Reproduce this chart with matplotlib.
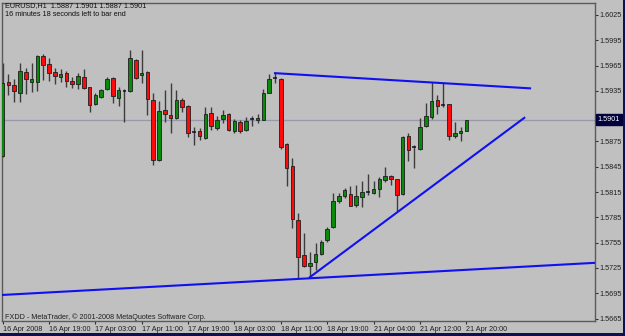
import matplotlib
matplotlib.use("Agg")
import matplotlib.pyplot as plt
import matplotlib.transforms as mtransforms
from matplotlib.patches import Rectangle

# ---------------- data (EURUSD H1) ----------------
opens = [1.5858, 1.5946, 1.5942, 1.5933, 1.5957, 1.5946, 1.5946, 1.5976, 1.5967, 1.5957,
         1.5951, 1.5956, 1.5947, 1.5943, 1.5951, 1.5939, 1.5919, 1.5928, 1.5937, 1.5950,
         1.5927, 1.5935, 1.5935, 1.5972, 1.5954, 1.5957, 1.5924, 1.5853, 1.5912, 1.5906,
         1.5903, 1.5924, 1.5917, 1.5886, 1.5887, 1.5879, 1.5909, 1.5891, 1.5902, 1.5908,
         1.5887, 1.5898, 1.5889, 1.5902, 1.5900, 1.5901, 1.5933, 1.5950, 1.5949, 1.5872,
         1.5846, 1.5782, 1.5740, 1.5727, 1.5732, 1.5742, 1.5758, 1.5773, 1.5804, 1.5810,
         1.5813, 1.5800, 1.5809, 1.5815, 1.5814, 1.5819, 1.5829, 1.5834, 1.5830, 1.5813,
         1.5881, 1.5868, 1.5866, 1.5893, 1.5904, 1.5924, 1.5918, 1.5919, 1.5882, 1.5885,
         1.5887]
highs = [1.5968, 1.5955, 1.5949, 1.5968, 1.5962, 1.5968, 1.5978, 1.5979, 1.5974, 1.5962,
         1.5961, 1.5958, 1.5952, 1.5956, 1.5961, 1.5940, 1.5932, 1.5937, 1.5951, 1.5951,
         1.5939, 1.5937, 1.5983, 1.5973, 1.5983, 1.5958, 1.5932, 1.5923, 1.5936, 1.5944,
         1.5936, 1.5927, 1.5918, 1.5892, 1.5891, 1.5916, 1.5916, 1.5905, 1.5912, 1.5909,
         1.5902, 1.5901, 1.5904, 1.5905, 1.5908, 1.5937, 1.5955, 1.5956, 1.5950, 1.5873,
         1.5855, 1.5790, 1.5766, 1.5744, 1.5755, 1.5758, 1.5774, 1.5814, 1.5814, 1.5820,
         1.5822, 1.5823, 1.5828, 1.5836, 1.5828, 1.5833, 1.5845, 1.5835, 1.5831, 1.5881,
         1.5885, 1.5871, 1.5903, 1.5921, 1.5946, 1.5930, 1.5944, 1.5920, 1.5898, 1.5892,
         1.5901]
lows = [1.5857, 1.5930, 1.5922, 1.5922, 1.5931, 1.5934, 1.5935, 1.5948, 1.5947, 1.5943,
        1.5945, 1.5940, 1.5938, 1.5937, 1.5937, 1.5910, 1.5918, 1.5927, 1.5936, 1.5921,
        1.5917, 1.5898, 1.5934, 1.5949, 1.5944, 1.5906, 1.5847, 1.5852, 1.5898, 1.5885,
        1.5902, 1.5910, 1.5880, 1.5871, 1.5877, 1.5878, 1.5889, 1.5889, 1.5897, 1.5887,
        1.5885, 1.5885, 1.5887, 1.5893, 1.5897, 1.5900, 1.5932, 1.5944, 1.5866, 1.5822,
        1.5772, 1.5713, 1.5726, 1.5714, 1.5722, 1.5740, 1.5756, 1.5772, 1.5802, 1.5808,
        1.5798, 1.5797, 1.5797, 1.5812, 1.5813, 1.5809, 1.5827, 1.5823, 1.5792, 1.5812,
        1.5852, 1.5843, 1.5865, 1.5892, 1.5902, 1.5908, 1.5916, 1.5877, 1.5879, 1.5875,
        1.5887]
closes = [1.5944, 1.5942, 1.5935, 1.5959, 1.5949, 1.5949, 1.5976, 1.5966, 1.5956, 1.5953,
          1.5955, 1.5947, 1.5943, 1.5953, 1.5938, 1.5918, 1.5930, 1.5936, 1.5949, 1.5929,
          1.5936, 1.5935, 1.5974, 1.5950, 1.5956, 1.5925, 1.5853, 1.5911, 1.5908, 1.5903,
          1.5924, 1.5916, 1.5885, 1.5886, 1.5881, 1.5908, 1.5893, 1.5901, 1.5906, 1.5889,
          1.5899, 1.5887, 1.5899, 1.5902, 1.5903, 1.5932, 1.5949, 1.5950, 1.5868, 1.5844,
          1.5783, 1.5738, 1.5727, 1.5731, 1.5742, 1.5756, 1.5771, 1.5804, 1.5810, 1.5817,
          1.5799, 1.5810, 1.5815, 1.5815, 1.5819, 1.5830, 1.5834, 1.5831, 1.5812, 1.5880,
          1.5865, 1.5868, 1.5892, 1.5905, 1.5923, 1.5917, 1.5918, 1.5881, 1.5885, 1.5887,
          1.5901]

time_tick_bars = [0, 8, 16, 24, 32, 40, 48, 56, 64, 72, 80]
time_tick_labels = ["16 Apr 2008", "16 Apr 19:00", "17 Apr 03:00", "17 Apr 11:00",
                    "17 Apr 19:00", "18 Apr 03:00", "18 Apr 11:00", "18 Apr 19:00",
                    "21 Apr 04:00", "21 Apr 12:00", "21 Apr 20:00"]
price_ticks = [1.6025, 1.5995, 1.5965, 1.5935, 1.5905, 1.5875, 1.5845,
               1.5815, 1.5785, 1.5755, 1.5725, 1.5695, 1.5665]

# trend lines (bar index, price)
upper_line_x = [47, 91]
upper_line_y = [1.5956, 1.5938]
rising_line_x = [53, 90]
rising_line_y = [1.5714, 1.5903]
base_line_x = [0, 102]
base_line_y = [1.5693, 1.5731]

header1 = "EURUSD,H1  1.5887 1.5901 1.5887 1.5901"
header2 = "16 minutes 18 seconds left to bar end"
footer = "FXDD - MetaTrader, \u00a9 2001-2008 MetaQuotes Software Corp."

# ---------------- figure ----------------
W, H = 625, 336
BG = "#c0c0c0"
plt.rcParams['font.family'] = ['Liberation Sans', 'DejaVu Sans']
fig = plt.figure(figsize=(W / 100, H / 100), dpi=100, facecolor=BG)
ax = fig.add_axes([2 / W, (H - 321) / H, 593 / W, 318 / H], facecolor=BG)

# navy outer frame (bottom and right)
fig.patches.append(Rectangle((0, 0), 1, 3 / H, transform=fig.transFigure,
                             facecolor="#10104a", edgecolor="none", zorder=0))
fig.patches.append(Rectangle((1 - 2 / W, 0), 2 / W, 1, transform=fig.transFigure,
                             facecolor="#10104a", edgecolor="none", zorder=0))

GREEN = "#0a8a0a"
RED = "#ff0a0a"
EDGE = "#1e1e1e"
WICK = "#3c3c3c"
bw = 0.62

for i, (o, h, l, c) in enumerate(zip(opens, highs, lows, closes)):
    ax.vlines(i, l, h, color=WICK, lw=1.0, zorder=2)
    if abs(c - o) < 0.00015:
        ax.hlines((o + c) / 2, i - bw / 2, i + bw / 2, color="#101030", lw=1.1, zorder=3)
    else:
        col = GREEN if c > o else RED
        ax.bar(i, abs(c - o), bottom=min(o, c), width=bw, color=col,
               edgecolor=EDGE, linewidth=0.6, zorder=3)

# current price line
ax.axhline(closes[-1], color="#9898ac", lw=0.9, zorder=1)

# trend lines
BLUE = "#1010f0"
ax.plot(upper_line_x, upper_line_y, color=BLUE, lw=1.5, zorder=4)
ax.plot(rising_line_x, rising_line_y, color=BLUE, lw=1.5, zorder=4)
ax.axline((base_line_x[0], base_line_y[0]), (base_line_x[1], base_line_y[1]),
          color=BLUE, lw=1.5, zorder=4)

ax.set_xlim(-0.1, 102.2)
ax.set_ylim(1.56621, 1.60392)

for s in ax.spines.values():
    s.set_color("#5a5a5a")
    s.set_linewidth(1.0)

ax.yaxis.tick_right()
ax.set_yticks(price_ticks)
ax.set_yticklabels([f"{p:.4f}" for p in price_ticks])
ax.tick_params(axis='y', direction='out', length=2.2, width=0.8, color="#303030",
               labelsize=5.2, pad=1.0, labelcolor="#202020")
ax.set_xticks(time_tick_bars)
ax.set_xticklabels(time_tick_labels, ha='left')
ax.tick_params(axis='x', direction='out', length=2.5, width=0.8, color="#303030",
               labelsize=5.2, pad=1.2, labelcolor="#202020")

# current price label
trans = mtransforms.blended_transform_factory(ax.transAxes, ax.transData)
ax.text(1.004, closes[-1], f"{closes[-1]:.4f}", transform=trans, ha='left', va='center',
        fontsize=5.2, color="white", zorder=10, clip_on=False,
        bbox=dict(boxstyle="square,pad=0.25", facecolor="#00003c", edgecolor="#00003c"))

fig.text(5 / W, 1 - 6 / H, header1, fontsize=5.2, color="#101010", va='center', ha='left')
fig.text(5 / W, 1 - 15 / H, header2, fontsize=5.2, color="#101010", va='center', ha='left')
fig.text(5 / W, 1 - 317 / H, footer, fontsize=5.2, color="#202020", va='center', ha='left')

fig.savefig("out.png", dpi=100, facecolor=BG)
